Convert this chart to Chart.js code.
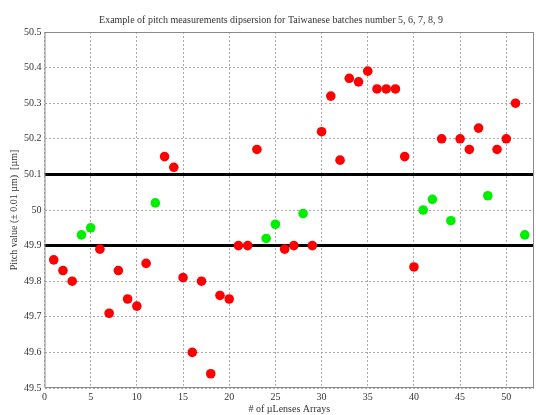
<!DOCTYPE html>
<html>
<head>
<meta charset="utf-8">
<script src="https://cdn.jsdelivr.net/npm/chart.js@4"></script>
<style>
  body { margin: 0; background: #fff; }
  #wrap { width: 536px; height: 415px; }
</style>
</head>
<body>
<div id="wrap"><canvas id="chartCanvas" width="536" height="415"></canvas></div>
<script>
// array number on the x axis, measured pitch on the y axis
const arrayNumbers = [
    1, 2, 3, 4, 5, 6, 7, 8, 9, 10, 11, 12, 13, 14, 15, 16, 17, 18, 19, 20,
    21, 22, 23, 24, 25, 26, 27, 28, 29, 30, 31, 32, 33, 34, 35, 36, 37, 38, 39, 40,
    41, 42, 43, 44, 45, 46, 47, 48, 49, 50, 51, 52
];
const pitchValues = [
    49.86, 49.83, 49.80, 49.93, 49.95, 49.89, 49.71, 49.83, 49.75, 49.73,
    49.85, 50.02, 50.15, 50.12, 49.81, 49.60, 49.80, 49.54, 49.76, 49.75,
    49.90, 49.90, 50.17, 49.92, 49.96, 49.89, 49.90, 49.99, 49.90, 50.22,
    50.32, 50.14, 50.37, 50.36, 50.39, 50.34, 50.34, 50.34, 50.15, 49.84,
    50.00, 50.03, 50.20, 49.97, 50.20, 50.17, 50.23, 50.04, 50.17, 50.20,
    50.30, 49.93
];
const lowerLimit = 49.9;
const upperLimit = 50.1;
const xTicks = [0, 5, 10, 15, 20, 25, 30, 35, 40, 45, 50];
const xMax = 53;

const inSpec = [];
const outSpec = [];
arrayNumbers.forEach((n, i) => {
    const p = { x: n, y: pitchValues[i] };
    if (pitchValues[i] > lowerLimit && pitchValues[i] < upperLimit) inSpec.push(p);
    else outSpec.push(p);
});

const serif = "'Liberation Serif', 'DejaVu Serif', serif";

// MATLAB style box round the plot
const frame = {
    id: "frame",
    afterDraw(c) {
        const a = c.chartArea, ctx = c.ctx;
        ctx.save();
        ctx.strokeStyle = "#8a8a8a";
        ctx.lineWidth = 1;
        ctx.strokeRect(a.left + 0.5, a.top + 0.5, a.right - a.left - 1, a.bottom - a.top - 1);
        ctx.restore();
    }
};

const chart = new Chart(chartCanvas, {
    type: "scatter",
    data: {
        datasets: [
            { data: outSpec, backgroundColor: "#ff0000", borderWidth: 0, pointRadius: 4.8, order: 1 },
            { data: inSpec, backgroundColor: "#00ee00", borderWidth: 0, pointRadius: 4.8, order: 1 },
            { type: "line", data: [{ x: 0, y: upperLimit }, { x: xMax, y: upperLimit }],
              borderColor: "#000", borderWidth: 3, pointRadius: 0, order: 2 },
            { type: "line", data: [{ x: 0, y: lowerLimit }, { x: xMax, y: lowerLimit }],
              borderColor: "#000", borderWidth: 3, pointRadius: 0, order: 2 }
        ]
    },
    options: {
        responsive: false,
        animation: false,
        events: [],
        layout: { autoPadding: false, padding: { left: 8, right: 2, top: 0, bottom: 0 } },
        plugins: {
            legend: { display: false },
            tooltip: { enabled: false },
            title: {
                display: true,
                text: "Example of pitch measurements dipsersion for Taiwanese batches number 5, 6, 7, 8, 9",
                color: "#333",
                font: { family: serif, size: 10, weight: "normal" },
                padding: { top: 14, bottom: 6 }
            }
        },
        scales: {
            x: {
                type: "linear",
                min: 0,
                max: xMax,
                afterBuildTicks: s => { s.ticks = xTicks.map(v => ({ value: v })); },
                afterFit: s => { s.height = 27; },
                ticks: { color: "#333", font: { family: serif, size: 10 }, padding: 3, maxRotation: 0 },
                grid: { color: "#aaaaaa", drawTicks: false },
                border: { display: false, dash: [2, 2] },
                title: {
                    display: true,
                    text: "# of \u00b5Lenses Arrays",
                    color: "#333",
                    font: { family: serif, size: 10 },
                    padding: { top: 0, bottom: 0 }
                }
            },
            y: {
                min: 49.5,
                max: 50.5,
                ticks: {
                    stepSize: 0.1,
                    color: "#333",
                    font: { family: serif, size: 10 },
                    padding: 3,
                    callback: v => String(Number(v.toFixed(1)))
                },
                grid: { color: "#aaaaaa", drawTicks: false },
                border: { display: false, dash: [2, 2] },
                title: {
                    display: true,
                    text: "Pitch value (\u00b1 0.01 \u00b5m)  [\u00b5m]",
                    color: "#333",
                    font: { family: serif, size: 10 },
                    padding: { top: 0, bottom: 1 }
                }
            }
        }
    },
    plugins: [frame]
});
</script>
</body>
</html>
